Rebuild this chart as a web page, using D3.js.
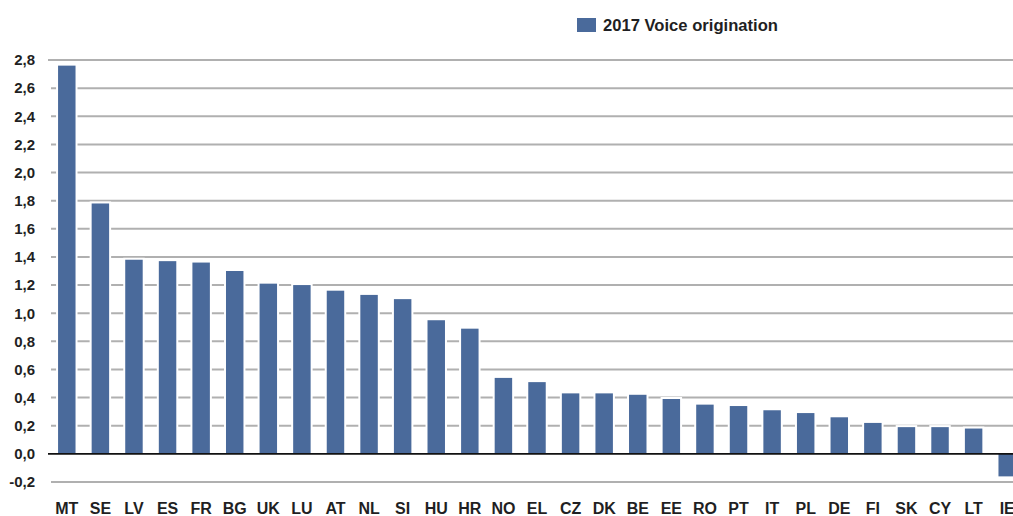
<html>

<head>
  <script src="https://d3js.org/d3.v7.min.js"></script>
  <style>
    body { margin: 0; background: #fff; }
    text { font-family: "Liberation Sans", Arial, sans-serif; font-weight: bold; fill: #1f1f23; }
  </style>
</head>

<body>
  <svg id="chart" width="1013" height="516"></svg>

  <script>
    // values
    const countries = ["MT", "SE", "LV", "ES", "FR", "BG", "UK", "LU", "AT", "NL", "SI", "HU", "HR", "NO",
      "EL", "CZ", "DK", "BE", "EE", "RO", "PT", "IT", "PL", "DE", "FI", "SK", "CY", "LT", "IE"];
    const voiceOrigination = [2.76, 1.78, 1.38, 1.37, 1.36, 1.30, 1.21, 1.20, 1.16, 1.13, 1.10, 0.95, 0.89, 0.54,
      0.51, 0.43, 0.43, 0.42, 0.39, 0.35, 0.34, 0.31, 0.29, 0.26, 0.22, 0.19, 0.19, 0.18, -0.16];
    const yTicks = [-0.2, 0, 0.2, 0.4, 0.6, 0.8, 1.0, 1.2, 1.4, 1.6, 1.8, 2.0, 2.2, 2.4, 2.6, 2.8];
    const yTickLabels = ["-0,2", "0,0", "0,2", "0,4", "0,6", "0,8", "1,0", "1,2", "1,4", "1,6", "1,8", "2,0", "2,2", "2,4", "2,6", "2,8"];
    const seriesName = "2017 Voice origination";

    const svg = d3.select("svg#chart");
    const width = +svg.attr("width");

    const barColor = "#4a6a9b";

    const xScale = d3.scaleBand()
      .domain(countries)
      .range([50, 1024])
      .paddingInner(0.48)
      .paddingOuter(0.24);

    const yScale = d3.scaleLinear()
      .domain([-0.2, 2.8])
      .range([482, 60]);

    // gridlines
    svg.append("g")
      .attr("class", "gridlines")
      .selectAll("line")
      .data(yTicks.filter(t => t !== 0))
      .join("line")
      .attr("x1", d => d === 2.8 ? 48 : 51)
      .attr("x2", width)
      .attr("y1", d => yScale(d))
      .attr("y2", d => yScale(d))
      .attr("stroke", "#b0b0b0")
      .attr("stroke-width", 2);

    // y labels
    const leftAxis = d3.axisLeft(yScale)
      .tickValues(yTicks)
      .tickSize(0)
      .tickPadding(20)
      .tickFormat((d, i) => yTickLabels[i]);
    const yAxisG = svg.append("g")
      .attr("class", "y axis")
      .attr("transform", "translate(55, 0)")
      .call(leftAxis);
    yAxisG.select(".domain").remove();
    yAxisG.selectAll("text")
      .attr("font-size", 15)
      .attr("font-family", null)
      .attr("fill", null);

    // bars, with a white halo that cuts the gridlines
    svg.append("g")
      .attr("class", "bars")
      .selectAll("rect")
      .data(countries)
      .join("rect")
      .attr("x", d => xScale(d))
      .attr("width", xScale.bandwidth())
      .attr("y", (d, i) => yScale(Math.max(0, voiceOrigination[i])))
      .attr("height", (d, i) => Math.abs(yScale(voiceOrigination[i]) - yScale(0)))
      .attr("fill", barColor)
      .attr("stroke", "#fff")
      .attr("stroke-width", 4)
      .style("paint-order", "stroke");

    // zero line
    svg.append("line")
      .attr("x1", 48)
      .attr("x2", width)
      .attr("y1", yScale(0))
      .attr("y2", yScale(0))
      .attr("stroke", "#111")
      .attr("stroke-width", 1.6);

    // country labels (IE is cut at the right edge, as in the original)
    const bottomAxis = d3.axisBottom(xScale).tickSize(0).tickPadding(0);
    const xAxisG = svg.append("g")
      .attr("class", "x axis")
      .attr("transform", "translate(0, 514)")
      .call(bottomAxis);
    xAxisG.select(".domain").remove();
    xAxisG.selectAll("text")
      .attr("y", 0)
      .attr("dy", 0)
      .attr("font-size", 16)
      .attr("font-family", null)
      .attr("fill", null);

    // legend
    const legend = svg.append("g").attr("class", "legend");
    legend.append("rect")
      .attr("x", 577)
      .attr("y", 18)
      .attr("width", 19)
      .attr("height", 14)
      .attr("fill", barColor);
    legend.append("text")
      .attr("x", 603)
      .attr("y", 31)
      .attr("font-size", 16.6)
      .text(seriesName);
  </script>

</body>

</html>
